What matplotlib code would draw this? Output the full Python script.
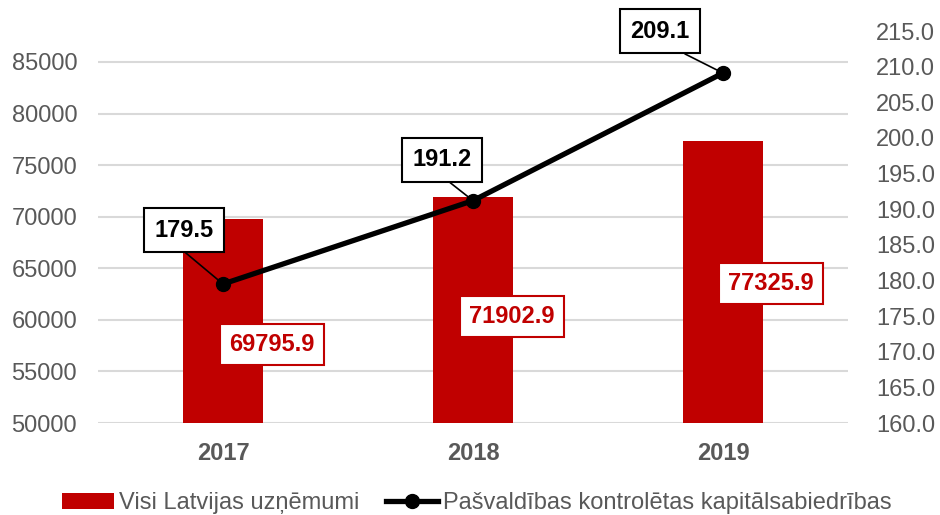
import matplotlib
matplotlib.use("Agg")
import matplotlib.pyplot as plt
from matplotlib.ticker import FormatStrFormatter

plt.rcParams['font.family'] = ['Liberation Sans', 'DejaVu Sans']

years = ['2017', '2018', '2019']
visi = [69795.9, 71902.9, 77325.9]
pasv = [179.5, 191.2, 209.1]
name_bar = 'Visi Latvijas uzņēmumi'
name_line = 'Pašvaldības kontrolētas kapitālsabiedrības'

red = '#C00000'
grey = '#595959'

fig = plt.figure(figsize=(9.4, 5.15), dpi=100)
ax = fig.add_axes([98 / 940, 1 - 423 / 515, 750 / 940, 392 / 515])
ax2 = ax.twinx()

x = list(range(len(years)))
bars = ax.bar(x, visi, width=0.32, color=red, label=name_bar, zorder=2)
ax.set_ylim(50000, 88000)
ax.set_xlim(-0.5, 2.5)
ax.set_yticks(range(50000, 85001, 5000))
ax.set_xticks(x)
ax.set_xticklabels(years, fontweight='bold')
ax.grid(axis='y', color='#D9D9D9', linewidth=1.5, zorder=0)
ax.set_axisbelow(True)
ax.tick_params(axis='x', length=0, pad=14, labelsize=17, labelcolor=grey)
ax.tick_params(axis='y', length=0, pad=15, labelsize=17, labelcolor=grey)

line, = ax2.plot(x, pasv, color='black', linewidth=3.8, marker='o', markersize=10,
                 label=name_line, zorder=3)
ax2.set_ylim(160, 215)
ax2.set_yticks(range(160, 216, 5))
ax2.yaxis.set_major_formatter(FormatStrFormatter('%.1f'))
ax2.tick_params(axis='y', length=0, pad=20, labelsize=17, labelcolor=grey)

for a in (ax, ax2):
    for s in a.spines.values():
        s.set_visible(False)

# bar value labels
bar_off = [(49, -126), (39, -119), (48, -142)]
for i, v in enumerate(visi):
    ax.annotate(f'{v:.1f}', xy=(i, v), xytext=bar_off[i], textcoords='offset pixels',
                ha='center', va='center', fontsize=17, fontweight='bold', color=red,
                bbox=dict(boxstyle='square,pad=0.38', fc='white', ec=red, lw=1.5),
                zorder=5)

# line value labels
line_off = [(-39, 54), (-31, 41), (-63, 42)]
rel = [(0.3, 0), (0.39, 0), (0.54, 0)]
for i, v in enumerate(pasv):
    ax2.annotate(f'{v:.1f}', xy=(i, v), xytext=line_off[i], textcoords='offset pixels',
                 ha='center', va='center', fontsize=17, fontweight='bold', color='black',
                 bbox=dict(boxstyle='square,pad=0.45', fc='white', ec='black', lw=1.5),
                 arrowprops=dict(arrowstyle='-', color='black', lw=1.2, relpos=rel[i],
                                 shrinkA=0, shrinkB=4),
                 zorder=5)

leg = fig.legend([bars, line], [name_bar, name_line], loc='lower center',
                 bbox_to_anchor=(0.507, -0.04), ncol=2, frameon=False, fontsize=17,
                 handlelength=2.2, handletextpad=0.2, columnspacing=1.15)
for t in leg.get_texts():
    t.set_color(grey)

plt.savefig('out.png', dpi=100)
